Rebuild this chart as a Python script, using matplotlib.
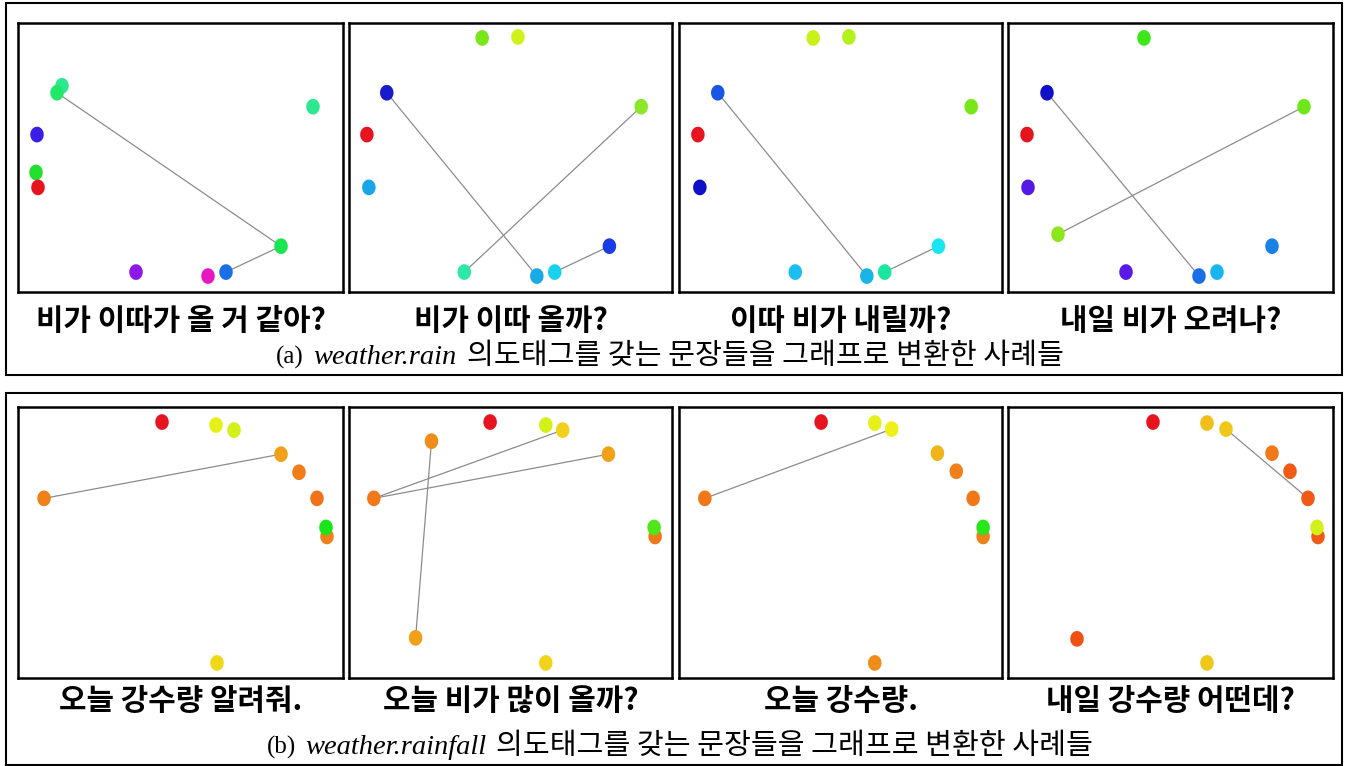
import numpy as np
import matplotlib
matplotlib.use("Agg")
import matplotlib.pyplot as plt
from matplotlib.patches import Rectangle
from matplotlib.offsetbox import TextArea, HPacker, AnnotationBbox

W, H = 1348, 766
KR = ["Noto Sans CJK KR", "DejaVu Sans"]

# sentence labels
rain_titles = ["비가 이따가 올 거 같아?", "비가 이따 올까?", "이따 비가 내릴까?", "내일 비가 오려나?"]
rainfall_titles = ["오늘 강수량 알려줘.", "오늘 비가 많이 올까?", "오늘 강수량.", "내일 강수량 어떤데?"]
rain_caption = "weather.rain"
rainfall_caption = "weather.rainfall"
caption_tail = "의도태그를 갖는 문장들을 그래프로 변환한 사례들"

# node layout positions (x to the right, y downwards), colours and edges
a1_x = [44, 39, 295, 19, 18, 20, 263, 118, 190, 208]
a1_y = [63, 70, 84, 112, 150, 165, 224, 250, 254, 250]
a1_c = ["#2ee88f", "#22e86a", "#2ee890", "#3a1ee6", "#22e030", "#e6141e",
        "#19e650", "#8c19e6", "#e619c0", "#1a70e6"]
a1_e = [(1, 6), (6, 9)]

a2_x = [134, 170, 38, 18, 20, 294, 262, 116, 189, 207]
a2_y = [15, 14, 70, 112, 165, 84, 224, 250, 254, 250]
a2_c = ["#78e619", "#d2f019", "#1a1acd", "#e6141e", "#1aa5e6", "#8ce62a",
        "#1a3ce6", "#2ee8a5", "#1aaae6", "#1ad2f0"]
a2_e = [(2, 8), (7, 5), (9, 6)]

a3_x = [135, 171, 39, 19, 21, 294, 261, 117, 189, 207]
a3_y = [15, 14, 70, 112, 165, 84, 224, 250, 254, 250]
a3_c = ["#c8f019", "#b4f019", "#1a55e6", "#e6141e", "#1010c8", "#78e619",
        "#1ae6f0", "#1abef0", "#1ab4e6", "#1ae6a0"]
a3_e = [(2, 8), (9, 6)]

a4_x = [136, 39, 19, 20, 296, 50, 264, 118, 191, 209]
a4_y = [15, 70, 112, 165, 84, 212, 224, 250, 254, 250]
a4_c = ["#3ce619", "#1010c8", "#e6141e", "#5519e6", "#6ee619", "#8ce619",
        "#1a82e6", "#5a19e6", "#1a6ee6", "#1ab4f0"]
a4_e = [(1, 8), (5, 4)]

b1_x = [144, 198, 216, 263, 281, 299, 309, 308, 26, 199]
b1_y = [15, 18, 23, 47, 65, 91, 129, 120, 91, 255]
b1_c = ["#e6141e", "#e6f019", "#d4f019", "#f0a019", "#f07d19", "#f07319",
        "#f08019", "#19e619", "#f08019", "#f0d819"]
b1_e = [(8, 3)]

b2_x = [83, 142, 198, 215, 261, 25, 308, 307, 67, 198]
b2_y = [34, 15, 18, 23, 47, 91, 129, 120, 230, 255]
b2_c = ["#f08c19", "#e6141e", "#d4f019", "#f0d019", "#f0a019", "#f07819",
        "#f07819", "#50e619", "#f0a019", "#f0d419"]
b2_e = [(5, 3), (5, 4), (0, 8)]

b3_x = [143, 197, 214, 260, 279, 296, 306, 306, 26, 197]
b3_y = [15, 16, 22, 46, 64, 91, 129, 120, 91, 255]
b3_c = ["#e6141e", "#e6f019", "#f0f019", "#f0b419", "#f08019", "#f07819",
        "#f08019", "#28e619", "#f07819", "#f08c19"]
b3_e = [(8, 2)]

b4_x = [145, 199, 218, 264, 282, 300, 310, 309, 69, 199]
b4_y = [15, 16, 22, 46, 64, 91, 129, 120, 231, 255]
b4_c = ["#e6141e", "#f0c019", "#f0c819", "#f07819", "#f05a14", "#f05a14",
        "#f05a14", "#d4f019", "#f05014", "#f0c819"]
b4_e = [(2, 5)]

rain_graphs = [(a1_x, a1_y, a1_c, a1_e), (a2_x, a2_y, a2_c, a2_e),
               (a3_x, a3_y, a3_c, a3_e), (a4_x, a4_y, a4_c, a4_e)]
rainfall_graphs = [(b1_x, b1_y, b1_c, b1_e), (b2_x, b2_y, b2_c, b2_e),
                   (b3_x, b3_y, b3_c, b3_e), (b4_x, b4_y, b4_c, b4_e)]

# slightly tall dots, like in the source picture
t = np.linspace(0, 2 * np.pi, 40)
DOT = np.column_stack([0.86 * np.cos(t), np.sin(t)])

fig = plt.figure(figsize=(W / 100, H / 100), dpi=100)
fig.patch.set_facecolor("white")

bg = fig.add_axes([0, 0, 1, 1])
bg.set_xlim(0, W)
bg.set_ylim(H, 0)
bg.axis("off")

lefts = [18, 349, 679, 1008]
widths = [325, 323, 323, 325]


def draw_graph(ax, x, y, colors, edges):
    for i, j in edges:
        ax.plot([x[i], x[j]], [y[i], y[j]], color="#8c8c8c", lw=0.9, zorder=2)
    ax.scatter(x, y, s=128, c=colors, marker=DOT, linewidths=0, zorder=3)
    ax.set_xlim(0, 325)
    ax.set_ylim(270, 0)
    ax.set_xticks([])
    ax.set_yticks([])
    for sp in ax.spines.values():
        sp.set_linewidth(1.8)


def draw_panel(top, bottom, outer, graphs, titles, title_y, cap_word, cap_xy):
    x0, y0, x1, y1 = outer
    bg.add_patch(Rectangle((x0, y0), x1 - x0, y1 - y0, fill=False,
                           edgecolor="black", lw=1.5, clip_on=False))
    for k, (gx, gy, gc, ge) in enumerate(graphs):
        ax = fig.add_axes([lefts[k] / W, 1 - bottom / H, widths[k] / W, (bottom - top) / H])
        draw_graph(ax, gx, gy, gc, ge)
        bg.text(lefts[k] + widths[k] / 2, title_y, titles[k], ha="center", va="center",
                fontsize=21.5, fontweight="bold", family=KR)

    parts = [
        TextArea(cap_word[0], textprops=dict(family="Liberation Serif", size=18)),
        TextArea(cap_word[1], textprops=dict(family="Liberation Serif", style="italic", size=20.5)),
        TextArea(caption_tail, textprops=dict(family=KR, size=21, weight="medium")),
    ]
    pack = HPacker(children=parts, align="baseline", pad=0, sep=7)
    bg.add_artist(AnnotationBbox(pack, cap_xy, xycoords="data", frameon=False,
                                 box_alignment=(0.5, 0.5)))


draw_panel(23, 292, (6, 3, 1342, 375), rain_graphs, rain_titles, 321,
           ("(a)", rain_caption), (670, 356))
draw_panel(407, 678, (6, 393, 1342, 765), rainfall_graphs, rainfall_titles, 701,
           ("(b)", rainfall_caption), (680, 746))

fig.savefig("out.png", dpi=100, facecolor="white")
